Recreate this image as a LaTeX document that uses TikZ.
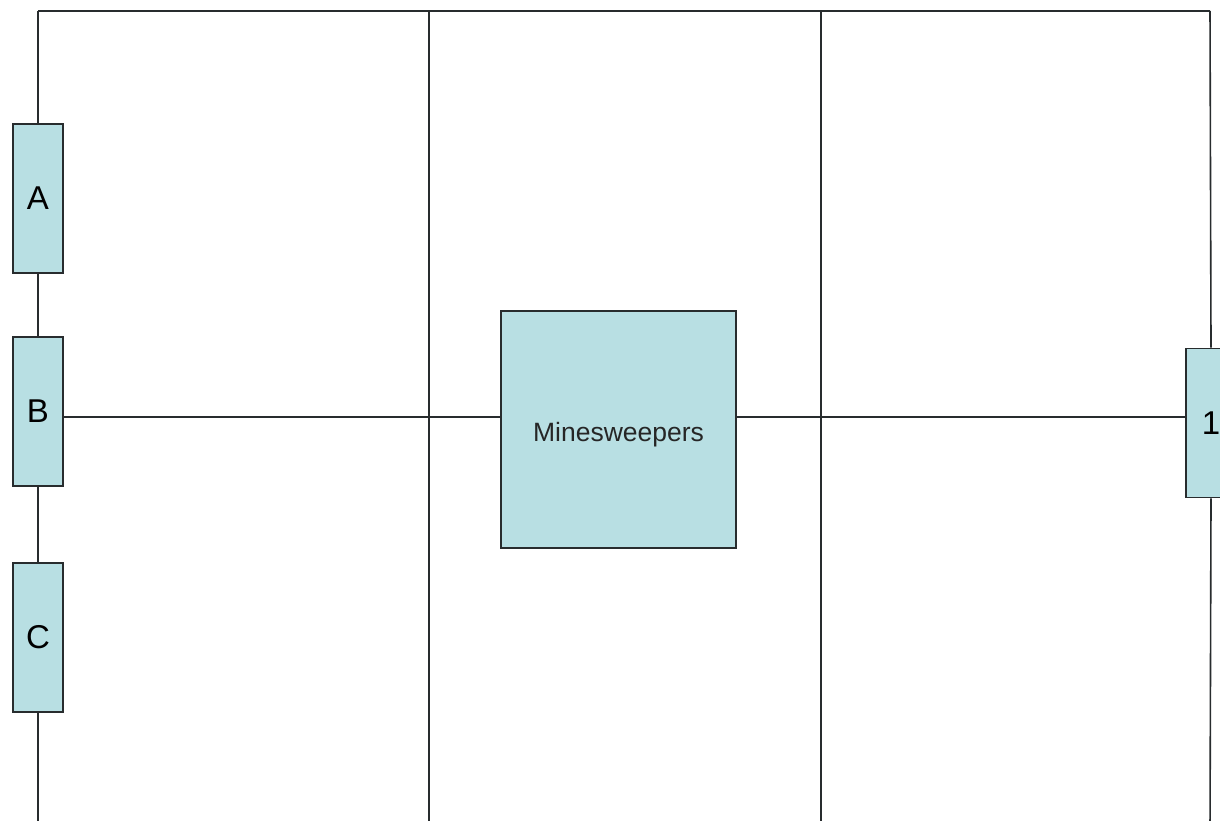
\documentclass[tikz,border=0pt]{standalone}
\usepackage{fontspec}
\setmainfont{Liberation Sans}
\definecolor{boxfill}{RGB}{184,223,227}
\definecolor{edge}{RGB}{40,44,46}
\begin{document}
\begin{tikzpicture}[x=1pt,y=-1pt,
  frame/.style={draw=edge,line width=1.6pt},
  tab/.style={draw=edge,line width=1.6pt,fill=boxfill,minimum width=50pt,minimum height=149pt,inner sep=0pt,font=\fontsize{33}{36}\selectfont},
  bigbox/.style={draw=edge,line width=1.6pt,fill=boxfill,minimum width=235pt,minimum height=237pt,inner sep=0pt},
  boxtext/.style={inner sep=0pt,font=\fontsize{26.5}{29}\selectfont,text=black!85}]
\clip (0,0) rectangle (1220,821);
\fill[white] (0,0) rectangle (1220,821);
\coordinate (tl) at (38,11);
\coordinate (bl) at (38,830);
\coordinate (tr) at (1210,11);
\coordinate (br) at (1210,830);
\coordinate (t1) at (429,11);
\coordinate (b1) at (429,830);
\coordinate (t2) at (821,11);
\coordinate (b2) at (821,830);
\coordinate (h) at (0,417);
\draw[frame] (tl) -- (tr);
\draw[frame] (t1) -- (b1);
\draw[frame] (t2) -- (b2);
\node[tab] (A) at (38,198.5) {A};
\node[tab] (B) at (38,411.5) {B};
\node[tab] (C) at (38,637.5) {C};
\node[tab] (one) at (1211,423) {1};
\node[bigbox] (M) at (618.5,429.5) {};
\node[boxtext] (Mlabel) at ([yshift=-5pt]M.center) {Minesweepers};
\draw[frame] (tl) -- (A.north);
\draw[frame] (A.south) -- (B.north);
\draw[frame] (B.south) -- (C.north);
\draw[frame] (C.south) -- (bl);
\draw[frame] (tr) -- (one.north);
\draw[frame] (one.south) -- (br);
\draw[frame] (B.east |- h) -- (M.west |- h);
\draw[frame] (M.east |- h) -- (one.west |- h);
\end{tikzpicture}
\end{document}
